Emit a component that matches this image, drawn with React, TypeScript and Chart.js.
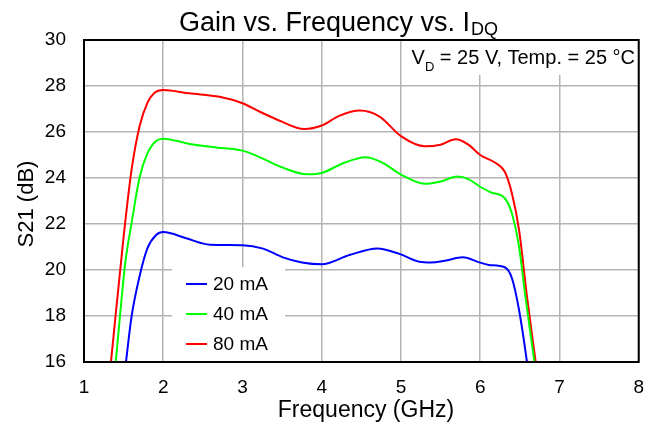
import React, { useEffect, useRef } from "react";
import { Chart, registerables } from "chart.js";

Chart.register(...registerables);

const FONT = '"Liberation Sans", Arial, Helvetica, sans-serif';

const TITLE_MAIN = "Gain vs. Frequency vs. I";
const TITLE_SUB = "DQ";
const NOTE_PARTS = ["V", "D", " = 25 V, Temp. = 25 °C"];
const X_TITLE = "Frequency (GHz)";
const Y_TITLE = "S21 (dB)";

const X_TICKS = [1, 2, 3, 4, 5, 6, 7, 8];
const Y_TICKS = [16, 18, 20, 22, 24, 26, 28, 30];

const SERIES_LABELS = ["20 mA", "40 mA", "80 mA"];
const SERIES_COLORS = ["#0000ff", "#00ff00", "#ff0000"];

const freq20 = [1.5, 1.53, 1.6, 1.7, 1.8, 1.91, 2.0, 2.29, 2.59, 3.0, 3.26, 3.51, 3.75, 4.0, 4.35, 4.7, 4.98, 5.23, 5.38, 5.55, 5.78, 6.0, 6.11, 6.31, 6.4, 6.49, 6.59, 6.62];
const gain20 = [15.1, 16.0, 17.97, 19.71, 20.94, 21.52, 21.65, 21.38, 21.1, 21.08, 20.93, 20.55, 20.33, 20.25, 20.65, 20.94, 20.7, 20.36, 20.33, 20.4, 20.55, 20.32, 20.22, 20.12, 19.64, 18.26, 16.0, 15.2];

const freq40 = [1.37, 1.4, 1.52, 1.6, 1.7, 1.8, 1.91, 2.0, 2.33, 2.67, 3.0, 3.22, 3.51, 3.82, 4.0, 4.27, 4.55, 4.77, 5.0, 5.3, 5.5, 5.71, 5.85, 6.0, 6.13, 6.31, 6.4, 6.49, 6.57, 6.7];
const gain40 = [15.0, 16.0, 20.29, 22.03, 24.0, 25.07, 25.61, 25.71, 25.48, 25.33, 25.19, 24.9, 24.45, 24.16, 24.22, 24.64, 24.9, 24.66, 24.15, 23.75, 23.85, 24.06, 23.95, 23.62, 23.38, 23.12, 22.46, 21.01, 18.84, 15.6];

const freq80 = [1.31, 1.34, 1.5, 1.6, 1.7, 1.8, 1.89, 2.0, 2.33, 2.71, 3.0, 3.22, 3.47, 3.78, 4.0, 4.22, 4.48, 4.73, 5.0, 5.3, 5.5, 5.69, 5.85, 6.0, 6.2, 6.31, 6.4, 6.49, 6.59, 6.72];
const gain80 = [15.0, 16.0, 21.45, 24.35, 26.23, 27.27, 27.71, 27.83, 27.68, 27.53, 27.25, 26.88, 26.49, 26.13, 26.28, 26.7, 26.93, 26.67, 25.82, 25.38, 25.45, 25.68, 25.45, 25.0, 24.64, 24.27, 23.33, 21.74, 18.84, 15.5];

const SERIES_X = [freq20, freq40, freq80];
const SERIES_Y = [gain20, gain40, gain80];

const overlayPlugin = {
  id: "overlay",
  beforeDatasetsDraw(chart: any) {
    const ctx = chart.ctx as CanvasRenderingContext2D;
    const a = chart.chartArea;
    ctx.save();
    ctx.fillStyle = "#ffffff";
    ctx.fillRect(407, a.top + 1, a.right - 1 - 407, 74 - a.top);
    ctx.fillRect(172, 267, 113, a.bottom - 1 - 267);
    ctx.restore();
  },
  afterDraw(chart: any) {
    const ctx = chart.ctx as CanvasRenderingContext2D;
    const a = chart.chartArea;
    ctx.save();
    ctx.strokeStyle = "#000";
    ctx.lineWidth = 2;
    ctx.strokeRect(a.left, a.top, a.right - a.left, a.bottom - a.top);

    ctx.fillStyle = "#000";
    ctx.textBaseline = "alphabetic";
    ctx.textAlign = "left";
    // title
    ctx.font = `27px ${FONT}`;
    const w1 = ctx.measureText(TITLE_MAIN).width;
    const tx = 179;
    ctx.fillText(TITLE_MAIN, tx, 31);
    ctx.font = `18px ${FONT}`;
    ctx.fillText(TITLE_SUB, tx + w1 + 1, 35);

    // note
    ctx.font = `20px ${FONT}`;
    const n0 = ctx.measureText(NOTE_PARTS[0]).width;
    ctx.font = `13px ${FONT}`;
    const n1 = ctx.measureText(NOTE_PARTS[1]).width;
    ctx.font = `20px ${FONT}`;
    const n2 = ctx.measureText(NOTE_PARTS[2]).width;
    const nx = 635 - (n0 + n1 + n2);
    ctx.fillText(NOTE_PARTS[0], nx, 64);
    ctx.font = `13px ${FONT}`;
    ctx.fillText(NOTE_PARTS[1], nx + n0, 71);
    ctx.font = `20px ${FONT}`;
    ctx.fillText(NOTE_PARTS[2], nx + n0 + n1, 64);

    // legend
    ctx.textBaseline = "middle";
    ctx.font = `19px ${FONT}`;
    SERIES_LABELS.forEach((lab, i) => {
      const y = 284 + i * 30;
      ctx.strokeStyle = SERIES_COLORS[i];
      ctx.lineWidth = 2;
      ctx.beginPath();
      ctx.moveTo(186, y);
      ctx.lineTo(207, y);
      ctx.stroke();
      ctx.fillStyle = "#000";
      ctx.fillText(lab, 213, y + 1);
    });

    // axis titles
    ctx.textAlign = "center";
    ctx.textBaseline = "alphabetic";
    ctx.font = `23px ${FONT}`;
    ctx.fillText(X_TITLE, 366, 417);
    ctx.font = `22px ${FONT}`;
    ctx.save();
    ctx.translate(33, 204);
    ctx.rotate(-Math.PI / 2);
    ctx.fillText(Y_TITLE, 0, 0);
    ctx.restore();
    ctx.restore();
  },
};

export default function App() {
  const ref = useRef<HTMLCanvasElement | null>(null);
  useEffect(() => {
    document.body.style.margin = "0";
    if (!ref.current) return;
    const chart = new Chart(ref.current, {
      type: "line",
      data: {
        datasets: SERIES_LABELS.map((lab, i) => ({
          label: lab,
          data: SERIES_X[i].map((x, j) => ({ x, y: SERIES_Y[i][j] })),
          borderColor: SERIES_COLORS[i],
          backgroundColor: SERIES_COLORS[i],
          borderWidth: 2,
          pointRadius: 0,
          fill: false,
          cubicInterpolationMode: "monotone" as const,
        })),
      },
      options: {
        animation: false,
        responsive: false,
        maintainAspectRatio: false,
        devicePixelRatio: 1,
        layout: { padding: { left: 0, right: 18, top: 40, bottom: 0 } },
        plugins: {
          legend: { display: false },
          title: { display: false },
          tooltip: { enabled: false },
        },
        scales: {
          x: {
            type: "linear",
            min: 1,
            max: 8,
            afterFit: (s: any) => {
              s.height = 61;
            },
            afterBuildTicks: (s: any) => {
              s.ticks = X_TICKS.map((v) => ({ value: v }));
            },
            grid: { color: "#b4b4b4", lineWidth: 1.5, drawTicks: false },
            border: { display: false },
            ticks: {
              color: "#000",
              padding: 14,
              font: { family: FONT, size: 19 },
              maxRotation: 0,
            },
          },
          y: {
            type: "linear",
            min: 16,
            max: 30,
            afterFit: (s: any) => {
              s.width = 84;
            },
            afterBuildTicks: (s: any) => {
              s.ticks = Y_TICKS.map((v) => ({ value: v }));
            },
            grid: { color: "#b4b4b4", lineWidth: 1.5, drawTicks: false },
            border: { display: false },
            ticks: {
              color: "#000",
              padding: 18,
              font: { family: FONT, size: 19 },
            },
          },
        },
      },
      plugins: [overlayPlugin],
    });
    return () => chart.destroy();
  }, []);
  return (
    <div style={{ width: 658, height: 423 }}>
      <canvas ref={ref} width={658} height={423} style={{ display: "block" }} />
    </div>
  );
}
